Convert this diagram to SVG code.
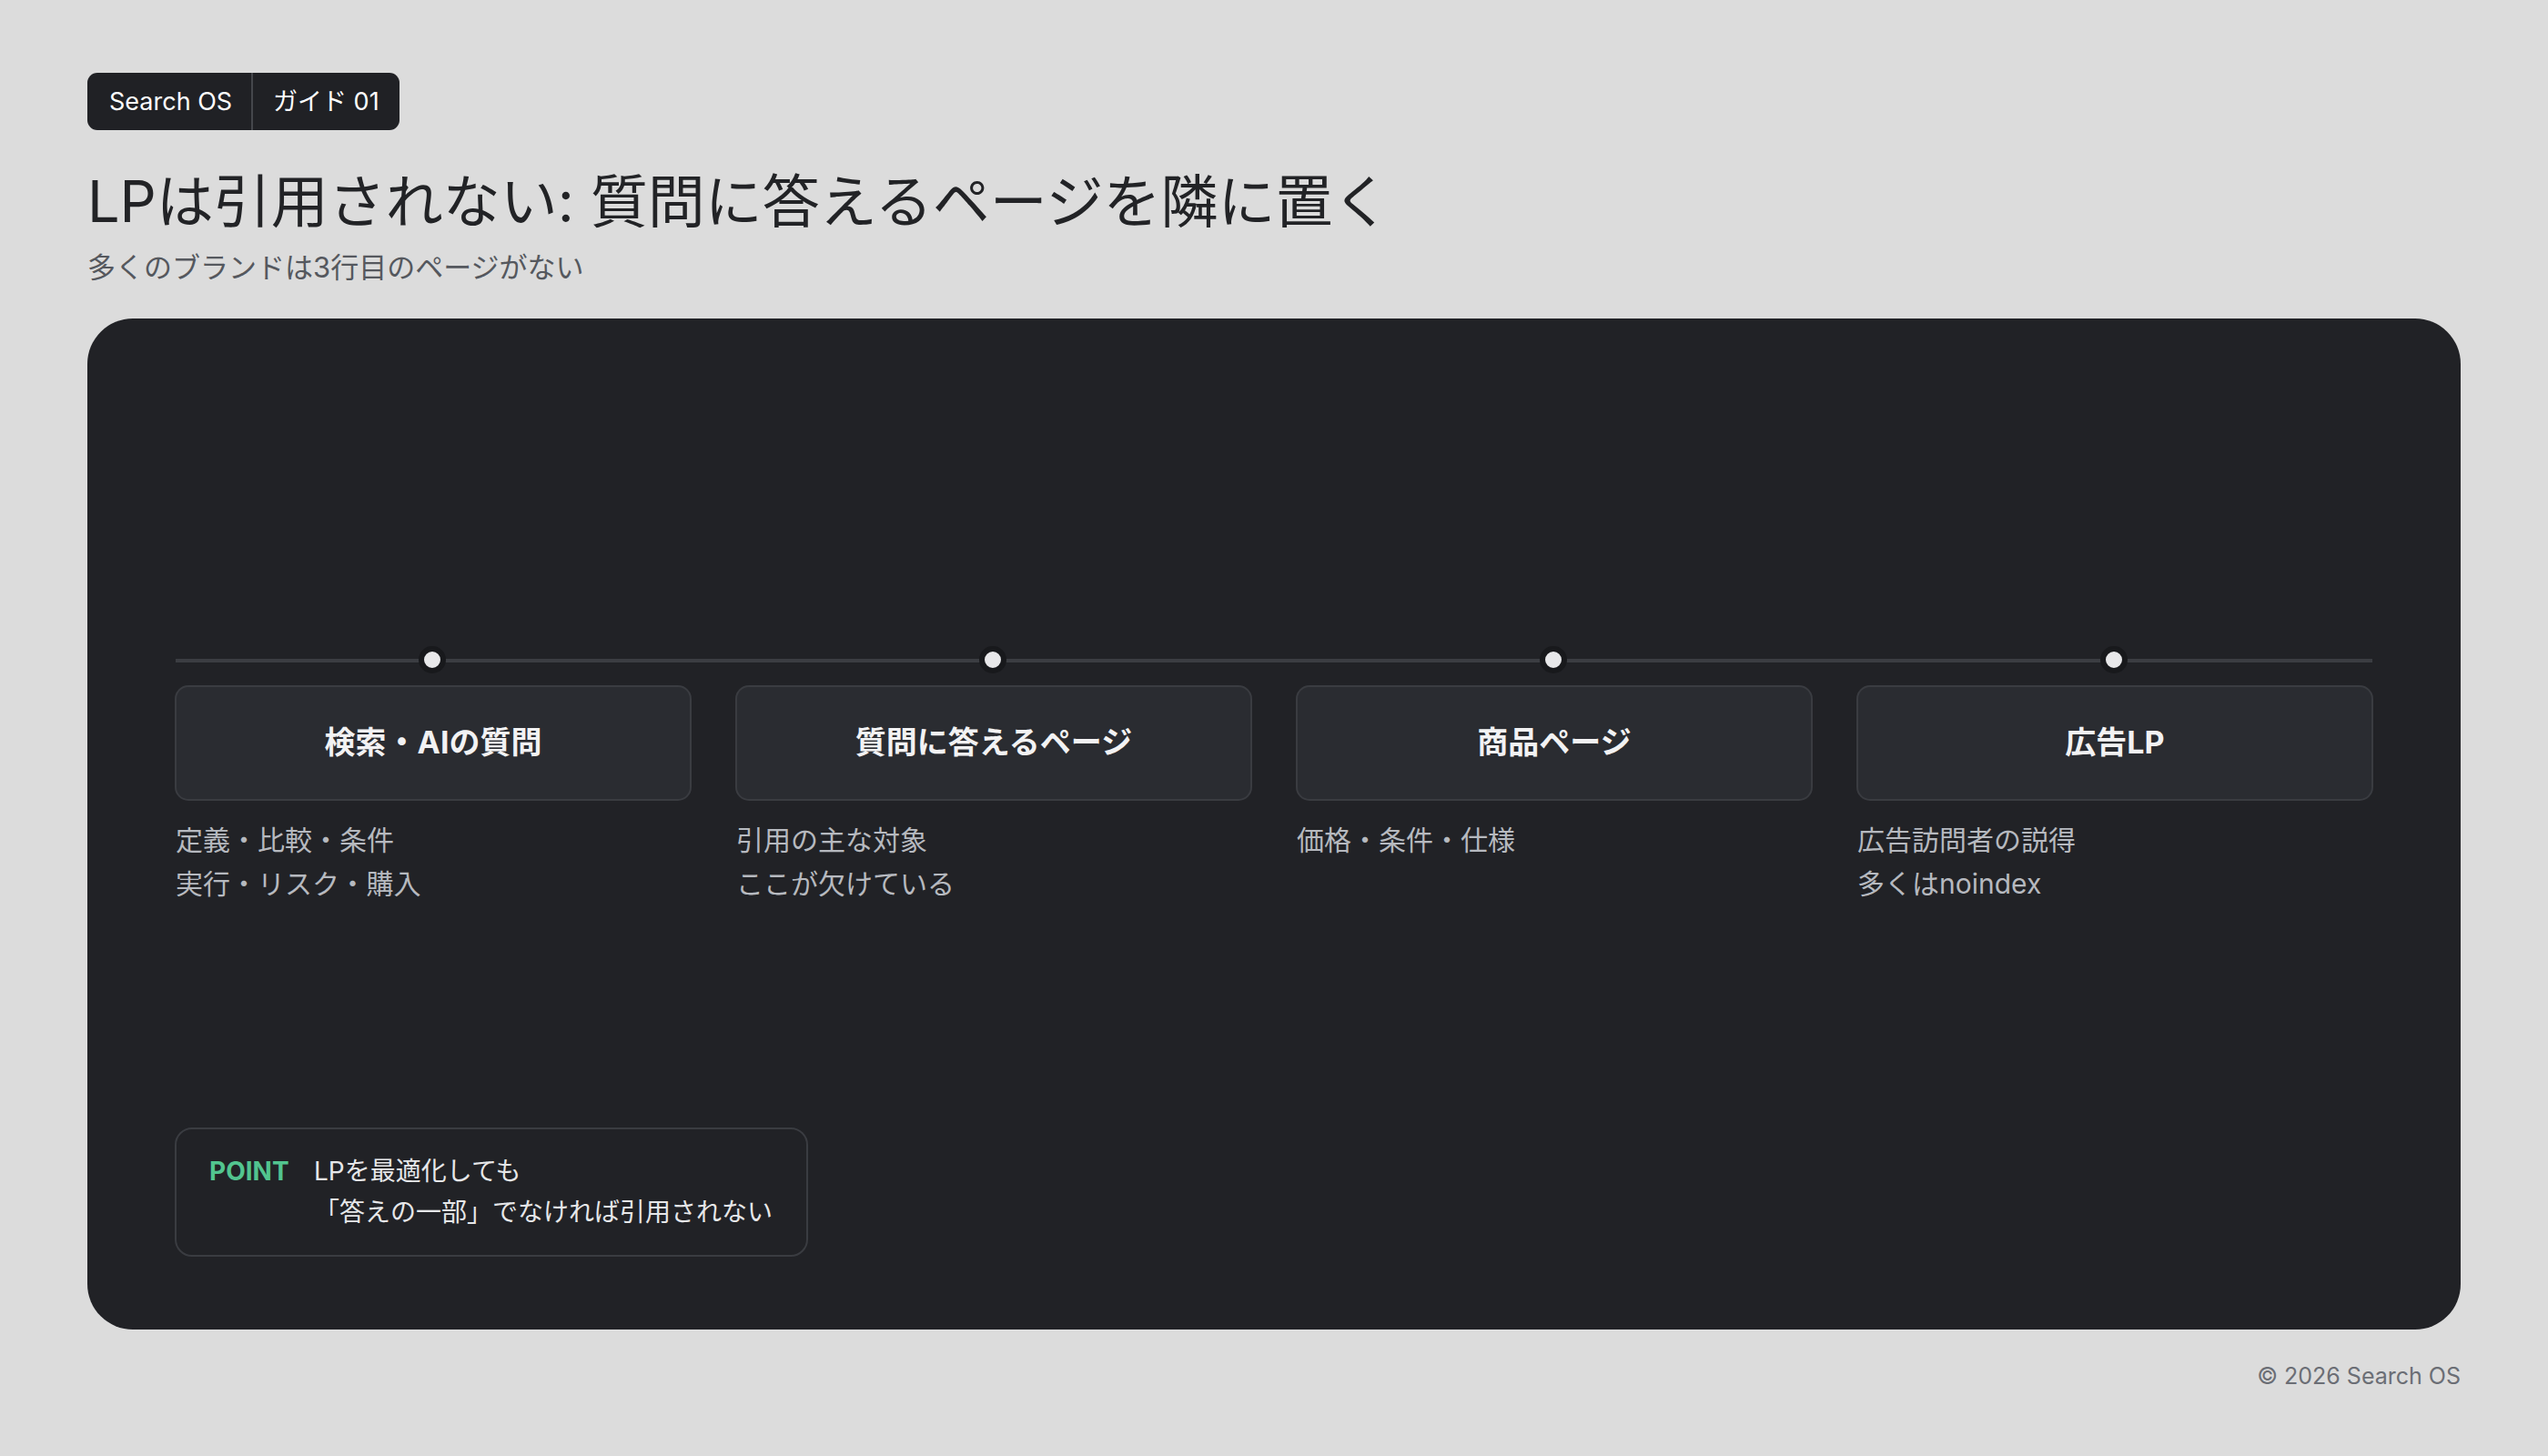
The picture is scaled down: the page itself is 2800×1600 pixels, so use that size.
<svg xmlns="http://www.w3.org/2000/svg" width="2800" height="1600" viewBox="0 0 2800 1600">
  <defs>
    <style>
      text { font-family: "Inter", "Noto Sans CJK JP", sans-serif; }
      .badge { fill: #ffffff; font-size: 27px; }
      .title { fill: #222326; font-size: 63px; }
      .sub { fill: #55585e; font-size: 31px; }
      .card { fill: #2a2c31; stroke: #3a3c41; stroke-width: 2; }
      .ctitle { fill: #f2f2f3; font-size: 34px; font-weight: 700; text-anchor: middle; }
      .desc { fill: #b6b9bf; font-size: 30px; }
      .dot { fill: #e8e8ea; stroke: #18191c; stroke-width: 6; }
      .ptext { fill: #e6e7e9; font-size: 28px; }
    </style>
  </defs>
  <rect x="0" y="0" width="2800" height="1600" fill="#dcdcdc"/>

  <g id="badge">
    <rect x="96" y="80" width="343" height="63" rx="11" fill="#202125"/>
    <line x1="277" y1="80" x2="277" y2="143" stroke="#45474c" stroke-width="2"/>
    <text class="badge" x="120" y="121">Search OS</text>
    <text class="badge" x="300" y="121">ガイド 01</text>
  </g>

  <g id="header">
    <text class="title" x="96" y="244">LPは引用されない: 質問に答えるページを隣に置く</text>
    <text class="sub" x="96" y="305">多くのブランドは3行目のページがない</text>
  </g>

  <rect id="panel" x="96" y="350" width="2608" height="1111" rx="50" fill="#212226"/>

  <g id="connectors">
    <line x1="193" y1="726" x2="2607" y2="726" stroke="#3b3d42" stroke-width="4"/>
  </g>

  <g id="dots">
    <circle class="dot" cx="475" cy="725" r="12"/>
    <circle class="dot" cx="1091" cy="725" r="12"/>
    <circle class="dot" cx="1707" cy="725" r="12"/>
    <circle class="dot" cx="2323" cy="725" r="12"/>
  </g>

  <g id="node1">
    <rect class="card" x="193" y="754" width="566" height="125" rx="14"/>
    <text class="ctitle" x="476" y="828">検索・AIの質問</text>
    <text class="desc" x="193" y="934">定義・比較・条件</text>
    <text class="desc" x="193" y="982">実行・リスク・購入</text>
  </g>
  <g id="node2">
    <rect class="card" x="809" y="754" width="566" height="125" rx="14"/>
    <text class="ctitle" x="1092" y="828">質問に答えるページ</text>
    <text class="desc" x="809" y="934">引用の主な対象</text>
    <text class="desc" x="809" y="982">ここが欠けている</text>
  </g>
  <g id="node3">
    <rect class="card" x="1425" y="754" width="566" height="125" rx="14"/>
    <text class="ctitle" x="1708" y="828">商品ページ</text>
    <text class="desc" x="1425" y="934">価格・条件・仕様</text>
  </g>
  <g id="node4">
    <rect class="card" x="2041" y="754" width="566" height="125" rx="14"/>
    <text class="ctitle" x="2324" y="828">広告LP</text>
    <text class="desc" x="2041" y="934">広告訪問者の説得</text>
    <text class="desc" x="2041" y="982">多くはnoindex</text>
  </g>

  <g id="point">
    <rect x="193" y="1240" width="694" height="140" rx="18" fill="#212226" stroke="#3a3c41" stroke-width="2"/>
    <text x="230" y="1297" font-size="28" font-weight="700" fill="#52c48f">POINT</text>
    <text class="ptext" x="345" y="1297">LPを最適化しても</text>
    <text class="ptext" x="345" y="1342">「答えの一部」でなければ引用されない</text>
  </g>

  <text id="footer" x="2704" y="1521" font-size="25" fill="#6b6e75" text-anchor="end">© 2026 Search OS</text>
</svg>
